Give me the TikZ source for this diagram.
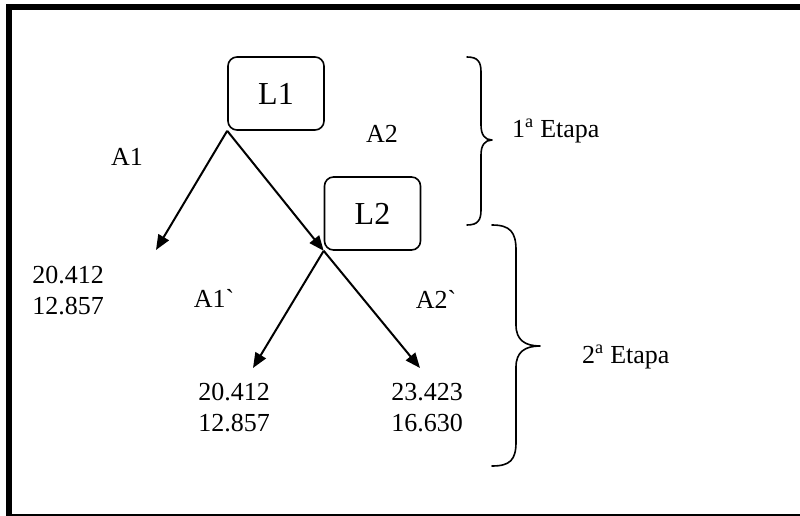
\documentclass[tikz,border=0pt]{standalone}
\usepackage{fontspec}
\setmainfont{Liberation Serif}
\usetikzlibrary{arrows.meta}
\begin{document}
\begin{tikzpicture}[x=1pt,y=-1pt,
  labeltext/.style={inner sep=0pt,font=\fontsize{26}{31}\selectfont},
  values/.style={labeltext,align=left},
  decisionbox/.style={draw,line width=1.6pt,rounded corners=9pt,
    minimum width=96pt,minimum height=73pt,inner sep=0pt,
    font=\fontsize{32}{36}\selectfont},
  branch/.style={line width=2pt,-{Triangle[length=15pt,width=12pt]}},
  bracepath/.style={line width=1.6pt,line cap=round,line join=round}]
  \useasboundingbox (0,0) rectangle (800,516);
  % frame
  \fill (6,4) rectangle (800,10);
  \fill (6,4) rectangle (12,516);
  \fill (6,514) rectangle (800,516);

  % decision nodes
  \node[decisionbox] (L1) at (276,93.5) {L1};
  \node[decisionbox] (L2) at (372.5,213.5) {L2};

  % outcome positions
  \coordinate (e1) at (156,250);
  \coordinate (e2) at (253,368);
  \coordinate (e3) at (420,368);

  \draw[branch] (L1.south west) -- (e1);
  \draw[branch] (L1.south west) -- (L2.south west);
  \draw[branch] (L2.south west) -- (e2);
  \draw[branch] (L2.south west) -- (e3);

  % branch labels
  \node[labeltext] (a1) at (127,157) {A1};
  \node[labeltext] (a2) at (382,134) {A2};
  \node[labeltext] (a1p) at (214,298) {A1\textasciigrave};
  \node[labeltext] (a2p) at (436,299) {A2\textasciigrave};

  % payoffs
  \node[values] (v1) at (68,291) {20.412\\12.857};
  \node[values] (v2) at (234,408) {20.412\\12.857};
  \node[values] (v3) at (427,408) {23.423\\16.630};

  % stage braces
  \draw[bracepath] (467,57) .. controls (478,57) and (481,62) .. (481,72)
    -- (481,125) .. controls (481,135) and (485,140) .. (492,140)
    .. controls (485,140) and (481,145) .. (481,155)
    -- (481,210) .. controls (481,220) and (478,225) .. (467,225);
  \draw[bracepath] (492,225) .. controls (510,225) and (516,232) .. (516,250)
    -- (516,325) .. controls (516,340) and (525,346) .. (540,346)
    .. controls (525,346) and (516,352) .. (516,367)
    -- (516,442) .. controls (516,460) and (510,466) .. (492,466);
  \node[labeltext,anchor=west] (s1) at (512,131) {1\textsuperscript{a} Etapa};
  \node[labeltext,anchor=west] (s2) at (582,357) {2\textsuperscript{a} Etapa};
\end{tikzpicture}
\end{document}
